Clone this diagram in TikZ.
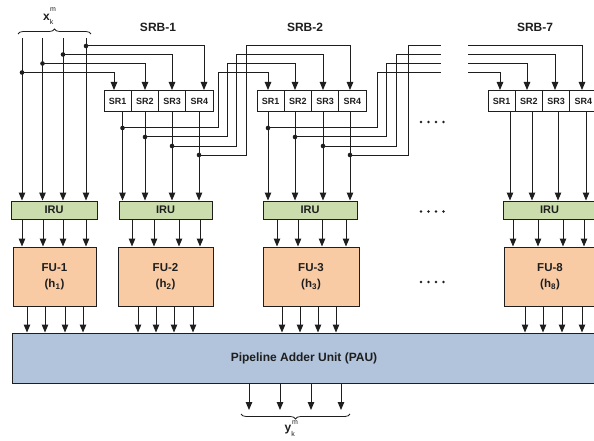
\documentclass[tikz,border=0pt]{standalone}
\usepackage{fontspec}
\setmainfont{Liberation Sans}
\usetikzlibrary{arrows.meta,decorations.pathreplacing}

\definecolor{irufill}{HTML}{CCDDAD}
\definecolor{fufill}{HTML}{F8CBA5}
\definecolor{paufill}{HTML}{B1C4DC}
\definecolor{ink}{HTML}{1E1E1E}

\begin{document}
\begin{tikzpicture}[x=1pt,y=-1pt,line width=1pt,color=ink,
  arr/.style={-{Triangle[length=8pt,width=6.5pt]}},
  junc/.style={fill=ink},
  title/.style={font=\fontsize{12}{12}\selectfont\bfseries},
  srcell/.style={draw,fill=white,minimum width=27.25pt,minimum height=21pt,inner sep=0pt,
    font=\fontsize{9}{9}\selectfont\bfseries},
  iru/.style={draw,fill=irufill,minimum height=18pt,inner sep=0pt,
    font=\fontsize{11}{11}\selectfont\bfseries},
  fu/.style={draw,fill=fufill,minimum height=59pt,inner sep=0pt,align=center,
    font=\fontsize{11.5}{16}\selectfont\bfseries},
  pau/.style={draw,fill=paufill,minimum height=50pt,inner sep=0pt,
    font=\fontsize{12}{12}\selectfont\bfseries},
  bracestyle/.style={decorate,decoration={brace,amplitude=5pt},line width=0.8pt},
  idx/.style={font=\fontsize{12}{12}\selectfont\bfseries,inner sep=0pt},
  idxsmall/.style={font=\fontsize{7}{7}\selectfont,inner sep=0pt}
]
\useasboundingbox (0,0) rectangle (594,441);
\clip (0,0) rectangle (594,441);

% block titles
\node[title] (t1) at (158,27) {SRB-1};
\node[title] (t2) at (305,27) {SRB-2};
\node[title] (t7) at (535,27) {SRB-7};

% shift-register cells of the three blocks shown
\foreach \b/\l in {a/104,b/257,c/488}{
  \foreach \i in {1,...,4}{
    \node[srcell] (sr\b\i) at ({\l+27.25*(\i-0.5)},101) {SR\i};
  }
}

% input reordering units
\node[iru,minimum width=86pt] (iru1) at (54,210) {IRU};
\node[iru,minimum width=93pt] (iru2) at (165.5,210) {IRU};
\node[iru,minimum width=94pt] (iru3) at (310,210) {IRU};
\node[iru,minimum width=93pt] (iru8) at (549.5,210) {IRU};

% filter units
\node[fu,minimum width=83pt] (fu1) at (54.5,276.5) {FU-1\\(h\textsubscript{1})};
\node[fu,minimum width=95pt] (fu2) at (165.5,276.5) {FU-2\\(h\textsubscript{2})};
\node[fu,minimum width=96pt] (fu3) at (311,276.5) {FU-3\\(h\textsubscript{3})};
\node[fu,minimum width=92pt] (fu8) at (550,276.5) {FU-8\\(h\textsubscript{8})};

% pipeline adder
\node[pau,minimum width=584pt] (pau) at (304,358) {Pipeline Adder Unit (PAU)};

% input samples
\draw[bracestyle] (18,34) -- (91,34);
\node[idx] (xin) at (46.5,17) {x};
\node[idxsmall] (xink) at (51.5,21.5) {k};
\node[idxsmall] (xinm) at (53,10) {m};
\foreach \i/\xi in {1/22,2/42.5,3/63,4/86}{
  \coordinate (x\i) at (\xi,38);
}
\foreach \i/\xi/\lv/\xt in {1/22/72.5/114,2/42.5/63.5/145,3/63/54.5/172,4/86/46/204}{
  \draw[arr] (x\i) -- (\xi,0 |- iru1.north);
  \coordinate (ja\i) at (\xi,\lv);
  \fill[junc] (ja\i) circle[radius=2.3];
  \draw[arr] (ja\i) -- (\xt,\lv) -- (\xt,0 |- sra\i.north);
}

% SRB-1 outputs: to IRU and on to SRB-2
\foreach \i/\xo/\dy/\xt/\lv/\xn in {1/122.5/128/218/72.5/268,2/145/137/227/63.5/295,
    3/172/146/236/54.5/323,4/199/155/246/46/350}{
  \draw[arr] (\xo,0 |- sra\i.south) -- (\xo,0 |- iru2.north);
  \coordinate (jb\i) at (\xo,\dy);
  \fill[junc] (jb\i) circle[radius=2.3];
  \draw[arr] (jb\i) -- (\xt,\dy) -- (\xt,\lv) -- (\xn,\lv) -- (\xn,0 |- srb\i.north);
}

% SRB-2 outputs: to IRU and on towards the next block
\foreach \i/\xo/\dy/\xt/\lv in {1/268/128/377/72.5,2/295/137/386/63.5,
    3/323/146/396/54.5,4/350/155/408/46}{
  \draw[arr] (\xo,0 |- srb\i.south) -- (\xo,0 |- iru3.north);
  \coordinate (jc\i) at (\xo,\dy);
  \coordinate (oc\i) at (441,\lv);
  \fill[junc] (jc\i) circle[radius=2.3];
  \draw (jc\i) -- (\xt,\dy) -- (\xt,\lv) -- (oc\i);
}

% SRB-7 inputs and outputs
\foreach \i/\lv/\xn/\xo in {1/72.5/500/510,2/63.5/527/532,3/54.5/555/558,4/46/582/586}{
  \coordinate (ic\i) at (468,\lv);
  \draw[arr] (ic\i) -- (\xn,\lv) -- (\xn,0 |- src\i.north);
  \draw[arr] (\xo,0 |- src\i.south) -- (\xo,0 |- iru8.north);
}

% IRU to FU
\foreach \xa in {22,43,63,86}{\draw[arr] (\xa,0 |- iru1.south) -- (\xa,0 |- fu1.north);}
\foreach \xa in {132,154,179,200}{\draw[arr] (\xa,0 |- iru2.south) -- (\xa,0 |- fu2.north);}
\foreach \xa in {277,298,322,346}{\draw[arr] (\xa,0 |- iru3.south) -- (\xa,0 |- fu3.north);}
\foreach \xa in {513,538,563,584}{\draw[arr] (\xa,0 |- iru8.south) -- (\xa,0 |- fu8.north);}

% FU to PAU
\foreach \xa in {27,45,65,83}{\draw[arr] (\xa,0 |- fu1.south) -- (\xa,0 |- pau.north);}
\foreach \xa in {138,156,174,193}{\draw[arr] (\xa,0 |- fu2.south) -- (\xa,0 |- pau.north);}
\foreach \xa in {282,300,318,336}{\draw[arr] (\xa,0 |- fu3.south) -- (\xa,0 |- pau.north);}
\foreach \xa in {525,543,562,582}{\draw[arr] (\xa,0 |- fu8.south) -- (\xa,0 |- pau.north);}

% outputs
\foreach \i/\xa in {1/249,2/280,3/311,4/341}{
  \coordinate (y\i) at (\xa,410);
  \draw[arr] (\xa,0 |- pau.south) -- (y\i);
}
\draw[bracestyle] (350,414) -- (241,414);
\node[idx] (yout) at (288,430) {y};
\node[idxsmall] (youtk) at (293,433.5) {k};
\node[idxsmall] (youtm) at (295,423) {m};

% ellipses for the omitted blocks
\foreach \yy in {122,211.5,282}{
  \foreach \xx in {421,428.5,436,443.5}{
    \fill[junc] (\xx,\yy) circle[radius=1.3];
  }
}
\end{tikzpicture}
\end{document}
